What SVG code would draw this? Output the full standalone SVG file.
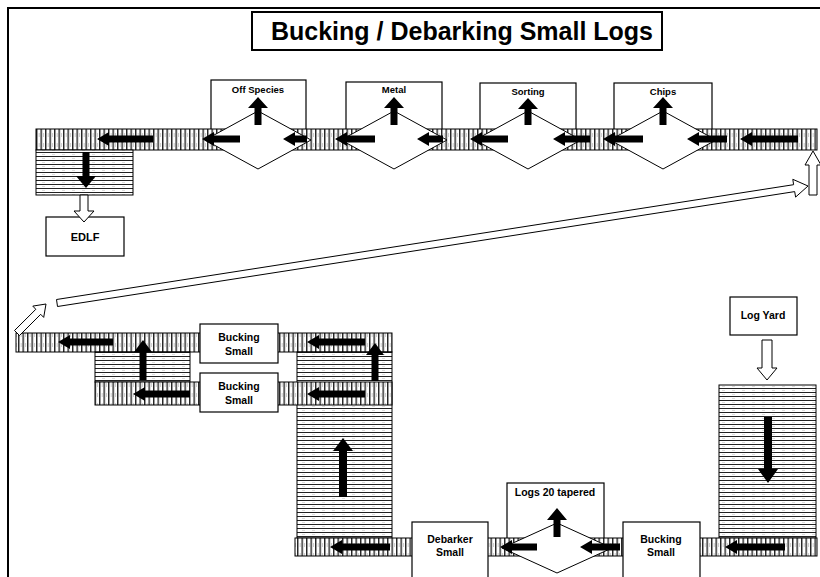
<svg xmlns="http://www.w3.org/2000/svg" width="820" height="577" viewBox="0 0 820 577">
<defs>
<pattern id="vs" width="4.5" height="10" patternUnits="userSpaceOnUse">
<rect width="4.5" height="10" fill="#fff"/>
<rect x="0" width="1.4" height="10" fill="#222"/>
<rect x="2.9" y="3" width="0.6" height="4" fill="#aaa"/>
</pattern>
<pattern id="hs" width="10" height="4" patternUnits="userSpaceOnUse">
<rect width="10" height="4" fill="#fff"/>
<rect y="0" width="10" height="1" fill="#222"/>
<rect y="2.3" x="2" width="3" height="0.5" fill="#bbb"/>
</pattern>
</defs>
<style>
.frame{fill:none;stroke:#000;stroke-width:2}
.box{fill:#fff;stroke:#000;stroke-width:1.2}
.conv{fill:url(#vs);stroke:#000;stroke-width:1}
.blk{fill:url(#hs);stroke:#000;stroke-width:1}
.dia{fill:#fff;stroke:#000;stroke-width:1}
.arr{fill:#000}
.hol{fill:#fff;stroke:#000;stroke-width:1}
.lbl{font-family:"Liberation Sans",Arial,sans-serif;font-weight:bold;fill:#000;text-anchor:middle}
.t9{font-size:9.5px}
.t10{font-size:10.5px}
.title{font-family:"Liberation Sans",Arial,sans-serif;font-weight:bold;font-size:25px;text-anchor:middle;fill:#000}
</style>
<path class="frame" d="M8,577 V8 H820"/>
<g id="title">
<rect x="252" y="12" width="410" height="38" fill="#fff" stroke="#000" stroke-width="2"/>
<text class="title" x="462" y="40">Bucking / Debarking Small Logs</text>
</g>

<g id="off-species"><rect class="box" x="211" y="80" width="95" height="60"/></g>
<g id="metal"><rect class="box" x="346" y="82" width="96" height="58"/></g>
<g id="sorting"><rect class="box" x="480" y="83" width="96" height="57"/></g>
<g id="chips"><rect class="box" x="614" y="83" width="98" height="57"/></g>
<g id="top-conveyor"><rect class="conv" x="36" y="129" width="781" height="21"/></g>
<g id="edlf-bin"><rect class="blk" x="36" y="150" width="97" height="45"/></g>
<g id="diamonds-top">
<polygon class="dia" points="205,140 258,111 311,140 258,169"/>
<polygon class="dia" points="341,140 394,111 447,140 394,169"/>
<polygon class="dia" points="475,140 528,111 581,140 528,169"/>
<polygon class="dia" points="610,140 663,111 716,140 663,169"/>
</g>
<g id="labels-top">
<text class="lbl t9" x="258" y="93">Off Species</text>
<text class="lbl t9" x="394" y="93">Metal</text>
<text class="lbl t9" x="528" y="95">Sorting</text>
<text class="lbl t9" x="663" y="95">Chips</text>
</g>
<g id="edlf">
<rect class="box" x="46" y="217" width="78" height="39"/>
<text class="lbl" x="85" y="241" font-size="11">EDLF</text>
</g>

<g id="conveyor-a"><rect class="conv" x="16" y="333" width="376" height="19"/></g>
<g id="bin-left"><rect class="blk" x="95" y="352" width="95" height="30"/></g>
<g id="bin-right"><rect class="blk" x="297" y="352" width="95" height="186"/></g>
<g id="conveyor-b"><rect class="conv" x="95" y="382" width="297" height="23"/></g>
<g id="bucking-small-1">
<rect class="box" x="200" y="324" width="78" height="39"/>
<text class="lbl t10" x="239" y="341">Bucking</text>
<text class="lbl t10" x="239" y="355">Small</text>
</g>
<g id="bucking-small-2">
<rect class="box" x="200" y="373" width="78" height="39"/>
<text class="lbl t10" x="239" y="390">Bucking</text>
<text class="lbl t10" x="239" y="404">Small</text>
</g>

<g id="log-yard-bin"><rect class="blk" x="719" y="385" width="97" height="153"/></g>
<g id="logs-20-tapered"><rect class="box" x="507" y="483" width="97" height="64"/></g>
<g id="conveyor-c"><rect class="conv" x="295" y="538" width="522" height="18"/></g>
<g id="diamond-bottom"><polygon class="dia" points="502,548 557,523 612,548 557,573"/></g>
<g id="debarker-small">
<rect class="box" x="412" y="522" width="76" height="60"/>
<text class="lbl t10" x="450" y="543">Debarker</text>
<text class="lbl t10" x="450" y="556">Small</text>
</g>
<g id="bucking-small-3">
<rect class="box" x="623" y="522" width="77" height="60"/>
<text class="lbl t10" x="661" y="543">Bucking</text>
<text class="lbl t10" x="661" y="556">Small</text>
</g>
<text class="lbl t10" x="555" y="496">Logs 20 tapered</text>
<g id="log-yard">
<rect class="box" x="730" y="297" width="67" height="38"/>
<text class="lbl t10" x="763" y="319">Log Yard</text>
</g>

<g id="connectors">
<polygon class="arr" points="97,139 109,132 109,135.5 153,135.5 153,142.5 109,142.5 109,146"/>
<polygon class="arr" points="202,139 214,132 214,135.5 240,135.5 240,142.5 214,142.5 214,146"/>
<polygon class="arr" points="283,139 295,132 295,135.5 307,135.5 307,142.5 295,142.5 295,146"/>
<polygon class="arr" points="335,139 347,132 347,135.5 375,135.5 375,142.5 347,142.5 347,146"/>
<polygon class="arr" points="417,139 429,132 429,135.5 443,135.5 443,142.5 429,142.5 429,146"/>
<polygon class="arr" points="470,139 482,132 482,135.5 508,135.5 508,142.5 482,142.5 482,146"/>
<polygon class="arr" points="553,139 565,132 565,135.5 590,135.5 590,142.5 565,142.5 565,146"/>
<polygon class="arr" points="603,139 615,132 615,135.5 643,135.5 643,142.5 615,142.5 615,146"/>
<polygon class="arr" points="687,139 699,132 699,135.5 727,135.5 727,142.5 699,142.5 699,146"/>
<polygon class="arr" points="740,139 752,132 752,135.5 798,135.5 798,142.5 752,142.5 752,146"/>
<polygon class="arr" points="258,97 268,108 261.5,108 261.5,125 254.5,125 254.5,108 248,108"/>
<polygon class="arr" points="394,97 404,108 397.5,108 397.5,125 390.5,125 390.5,108 384,108"/>
<polygon class="arr" points="528,98 538,109 531.5,109 531.5,125 524.5,125 524.5,109 518,109"/>
<polygon class="arr" points="663,97 673,108 666.5,108 666.5,125 659.5,125 659.5,108 653,108"/>
<polygon class="arr" points="86,188 76,176 82.5,176 82.5,152 89.5,152 89.5,176 96,176"/>
<polygon class="hol" points="84,222 74,211 80,211 80,195 88,195 88,211 94,211"/>
<polygon class="hol" points="14.5,330.5 35.8,309.3 32.8,306.1 46,304 43.7,317.4 40.7,314.3 19.5,335.5"/>
<polygon class="hol" points="56.5,299.5 793.6,184.7 792.8,179.3 808,186 795.6,197.1 794.7,191.6 57.5,306.5"/>
<polygon class="hol" points="813,151 821,165 817,165 817,195 809,195 809,165 805,165"/>
<polygon class="arr" points="58,342 70,335 70,338.5 113,338.5 113,345.5 70,345.5 70,349"/>
<polygon class="arr" points="307,342 319,335 319,338.5 365,338.5 365,345.5 319,345.5 319,349"/>
<polygon class="arr" points="133,394 145,387 145,390.5 190,390.5 190,397.5 145,397.5 145,401"/>
<polygon class="arr" points="307,394 319,387 319,390.5 365,390.5 365,397.5 319,397.5 319,401"/>
<polygon class="arr" points="143,340 152,352 146.5,352 146.5,380 139.5,380 139.5,352 134,352"/>
<polygon class="arr" points="375,343 384,355 378.5,355 378.5,381 371.5,381 371.5,355 366,355"/>
<polygon class="arr" points="343,438 353,451 347,451 347,497 339,497 339,451 333,451"/>
<polygon class="arr" points="330,547 342,540 342,543.5 390,543.5 390,550.5 342,550.5 342,554"/>
<polygon class="arr" points="500,547 512,540 512,543.5 537,543.5 537,550.5 512,550.5 512,554"/>
<polygon class="arr" points="580,547 592,540 592,543.5 620,543.5 620,550.5 592,550.5 592,554"/>
<polygon class="arr" points="725,547 737,540 737,543.5 785,543.5 785,550.5 737,550.5 737,554"/>
<polygon class="arr" points="557,508 567,520 560.5,520 560.5,537 553.5,537 553.5,520 547,520"/>
<polygon class="hol" points="767,380 757,368 762,368 762,340 772,340 772,368 777,368"/>
<polygon class="arr" points="768,483 758,469 764,469 764,417 772,417 772,469 778,469"/>
</g>
</svg>
